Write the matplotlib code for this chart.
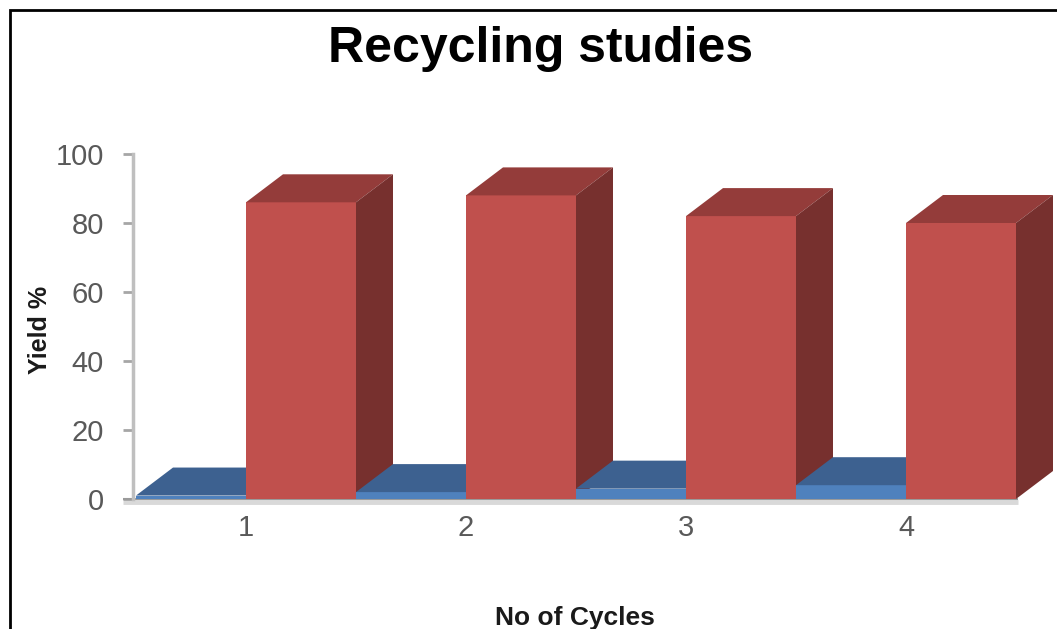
import matplotlib.pyplot as plt
from matplotlib.patches import Polygon, Rectangle

plt.rcParams['font.family'] = ['Liberation Sans', 'DejaVu Sans']

cycles = [1, 2, 3, 4]
cycle_no = [1, 2, 3, 4]          # blue series (cycle number itself)
yield_pct = [86, 88, 82, 80]     # red series
xticklabels = ['1', '2', '3', '4']
yticks = [0, 20, 40, 60, 80, 100]

W, H = 1057, 629
fig = plt.figure(figsize=(W / 100, H / 100), dpi=100)
ax = fig.add_axes([133 / W, 130 / H, (W - 133) / W, 345 / H])

px_per_cat = 220
x0 = 0.5 - 3 / px_per_cat
ax.set_xlim(x0, x0 + (W - 133) / px_per_cat)
ax.set_ylim(0, 100)

# oblique depth offset, in data units
dx = 37 / px_per_cat
dy = 28 / 3.45
bw = 0.5

def column(left, h, front, top, side, z):
    ax.add_patch(Rectangle((left, 0), bw, h, fc=front, ec='none', zorder=z, clip_on=False))
    ax.add_patch(Polygon([(left, h), (left + bw, h), (left + bw + dx, h + dy), (left + dx, h + dy)],
                         fc=top, ec='none', zorder=z, clip_on=False))
    ax.add_patch(Polygon([(left + bw, 0), (left + bw + dx, dy), (left + bw + dx, h + dy), (left + bw, h)],
                         fc=side, ec='none', zorder=z, clip_on=False))

z = 3
for c, b, r in zip(cycles, cycle_no, yield_pct):
    column(c - bw, b, '#4f81bd', '#3d6190', '#2f4d73', z)
    column(c, r, '#c0504d', '#943c3a', '#77302e', z + 1)
    z += 2

# floor edge
ax.plot([x0 - 10 / px_per_cat, 4.5 + 2 / px_per_cat], [0, 0], color='#9a9a9a', lw=1.5,
        zorder=2, clip_on=False, solid_capstyle='butt')
ax.plot([x0 - 10 / px_per_cat, 4.5 + 2 / px_per_cat], [-0.9, -0.9], color='#d9d9d9', lw=3.5,
        zorder=1, clip_on=False, solid_capstyle='butt')

for s in ['top', 'right', 'bottom']:
    ax.spines[s].set_visible(False)
ax.spines['left'].set_color('#bfbfbf')
ax.spines['left'].set_linewidth(2.5)

ax.set_yticks(yticks)
ax.tick_params(axis='y', direction='out', length=7, width=2, color='#a6a6a6',
               labelcolor='#595959', labelsize=21, pad=14)
ax.set_xticks(cycles)
ax.set_xticklabels(xticklabels)
ax.tick_params(axis='x', length=0, labelcolor='#595959', labelsize=21, pad=11)

fig.text(540 / W, 1 - 62 / H, 'Recycling studies', ha='center', va='baseline',
         fontsize=36, fontweight='bold', color='black')
fig.text(575 / W, 1 - 625 / H, 'No of Cycles', ha='center', va='baseline',
         fontsize=19, fontweight='bold', color='#1a1a1a')
fig.text(40 / W, 1 - 330 / H, 'Yield %', ha='center', va='center', rotation=90,
         fontsize=18, fontweight='bold', color='#1a1a1a')

fig.patches.append(Rectangle((10 / W, -0.2), 1.2, 1 - 10 / H + 0.2, transform=fig.transFigure,
                             fill=False, ec='black', lw=2))

fig.savefig('out.png', dpi=100)
